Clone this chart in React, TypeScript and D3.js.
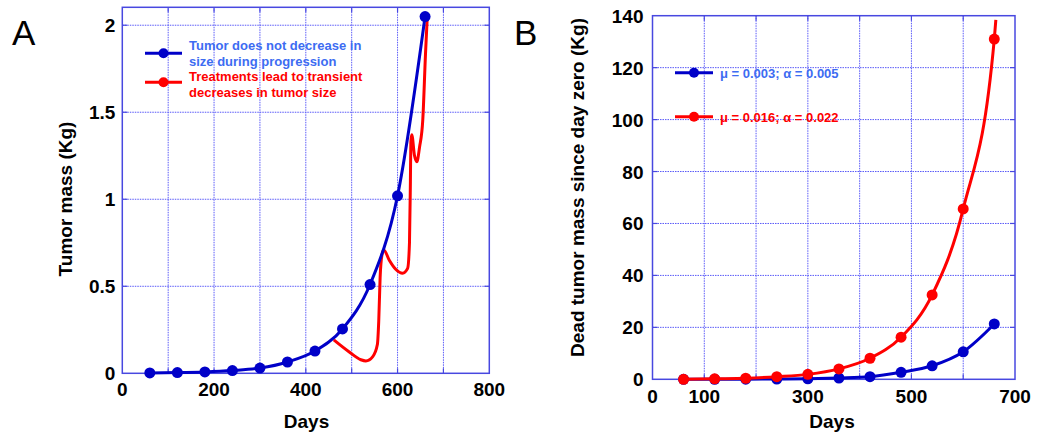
import React from 'react';
import * as d3 from 'd3';

// sampling days shared by the marker series
const days = [60, 120, 180, 240, 300, 360, 420, 480, 540, 600, 660];

// panel A: tumor mass (Kg)
const massNoDecrease = [0.002, 0.004, 0.008, 0.016, 0.03, 0.065, 0.128, 0.255, 0.51, 1.02, 2.05];
const treatDays = [461, 494, 520, 531, 546, 556, 559, 562, 566, 570, 582, 596, 611, 622, 626, 628, 629, 631, 637, 642, 648, 655, 661, 665];
const treatMass = [0.192, 0.124, 0.078, 0.071, 0.096, 0.165, 0.3, 0.55, 0.68, 0.709, 0.65, 0.598, 0.575, 0.603, 0.75, 1.1, 1.33, 1.37, 1.25, 1.216, 1.3, 1.456, 1.84, 2.06];

// panel B: dead tumor mass since day zero (Kg)
const deadLowRate = [0, 0.02, 0.05, 0.1, 0.2, 0.5, 1.0, 2.7, 5.2, 10.6, 21.3];
const deadHighRate = [0, 0.2, 0.4, 1.0, 1.9, 4.0, 8.1, 16.2, 32.5, 65.6, 131.0];
const deadHighTailDay = 663;
const deadHighTailMass = 138.4;

const xTicksA = [0, 200, 400, 600, 800];
const yTicksA = [0, 0.5, 1, 1.5, 2];
const gridXA = [100, 200, 300, 400, 500, 600, 700];
const gridYA = [0.5, 1, 1.5, 2];

const xTicksB = [0, 100, 300, 500, 700];
const yTicksB = [0, 20, 40, 60, 80, 100, 120, 140];
const gridXB = [100, 200, 300, 400, 500, 600];
const gridYB = [20, 40, 60, 80, 100, 120];

const legendA = [
  ['Tumor does not decrease in', 'size during progression'],
  ['Treatments lead to transient', 'decreases in tumor size'],
];
const legendB = ['\u03bc = 0.003; \u03b1 = 0.005', '\u03bc = 0.016; \u03b1 = 0.022'];

const FONT = '"Liberation Sans", Arial, Helvetica, sans-serif';
const BLUE = '#0000c8';
const RED = '#ff0000';
const LEG_BLUE = '#3d6cf2';
const GRID = '#5a5af8';
const FRAME = '#4848e0';

type Scale = d3.ScaleLinear<number, number>;

function Frame({ x, y, gridX, gridY, xTicks, yTicks, xLabOff, yLabOff }: {
  x: Scale; y: Scale; gridX: number[]; gridY: number[]; xTicks: number[]; yTicks: number[]; xLabOff: number; yLabOff: number;
}) {
  const [x0, x1] = x.range();
  const [y0, y1] = y.range();
  return (
    <g>
      {gridX.map(d => (
        <line key={'gx' + d} x1={x(d)} x2={x(d)} y1={y0} y2={y1} stroke={GRID} strokeWidth={1} strokeDasharray="1.5,1" />
      ))}
      {gridY.map(d => (
        <line key={'gy' + d} x1={x0} x2={x1} y1={y(d)} y2={y(d)} stroke={GRID} strokeWidth={1} strokeDasharray="1.5,1" />
      ))}
      {gridX.map(d => (
        <g key={'tx' + d}>
          <line x1={x(d)} x2={x(d)} y1={y0} y2={y0 - 5} stroke={FRAME} strokeWidth={1.2} />
          <line x1={x(d)} x2={x(d)} y1={y1} y2={y1 + 5} stroke={FRAME} strokeWidth={1.2} />
        </g>
      ))}
      {gridY.map(d => (
        <g key={'ty' + d}>
          <line x1={x0} x2={x0 + 5} y1={y(d)} y2={y(d)} stroke={FRAME} strokeWidth={1.2} />
          <line x1={x1} x2={x1 - 5} y1={y(d)} y2={y(d)} stroke={FRAME} strokeWidth={1.2} />
        </g>
      ))}
      <rect x={x0} y={y1} width={x1 - x0} height={y0 - y1} fill="none" stroke={FRAME} strokeWidth={1.5} />
      {xTicks.map(d => (
        <text key={'lx' + d} x={x(d)} y={y0 + xLabOff} textAnchor="middle" fontSize={19} fontWeight="bold" fontFamily={FONT}>{d}</text>
      ))}
      {yTicks.map(d => (
        <text key={'ly' + d} x={x0 - yLabOff} y={y(d) + 7} textAnchor="end" fontSize={19} fontWeight="bold" fontFamily={FONT}>{d}</text>
      ))}
    </g>
  );
}

function Series({ x, y, xs, ys, color, markers, tail }: {
  x: Scale; y: Scale; xs: number[]; ys: number[]; color: string; markers: boolean; tail?: [number, number];
}) {
  const pts: [number, number][] = xs.map((d, i) => [d, ys[i]]);
  if (tail) pts.push(tail);
  const line = d3.line<[number, number]>().x(d => x(d[0])).y(d => y(d[1])).curve(d3.curveMonotoneX);
  return (
    <g>
      <path d={line(pts) || ''} fill="none" stroke={color} strokeWidth={3} strokeLinejoin="round" />
      {markers && xs.map((d, i) => (
        <circle key={i} cx={x(d)} cy={y(ys[i])} r={5.5} fill={color} />
      ))}
    </g>
  );
}

function LegendMark({ x1, x2, y, color }: { x1: number; x2: number; y: number; color: string }) {
  return (
    <g>
      <line x1={x1} x2={x2} y1={y} y2={y} stroke={color} strokeWidth={3} />
      <circle cx={(x1 + x2) / 2} cy={y} r={5} fill={color} />
    </g>
  );
}

export default function App() {
  const xA = d3.scaleLinear().domain([0, 800]).range([122.3, 489.3]);
  const yA = d3.scaleLinear().domain([0, 2.103]).range([373.3, 7.3]);
  const xB = d3.scaleLinear().domain([0, 700]).range([652.5, 1015]);
  const yB = d3.scaleLinear().domain([0, 140]).range([379.3, 15.7]);

  return (
    <svg width={1047} height={434} style={{ position: 'absolute', left: 0, top: 0, background: '#fff' }}>
      {/* panel A */}
      <text x={12} y={45} fontSize={35} fontFamily={FONT}>A</text>
      <Frame x={xA} y={yA} gridX={gridXA} gridY={gridYA} xTicks={xTicksA} yTicks={yTicksA} xLabOff={23} yLabOff={7} />
      <Series x={xA} y={yA} xs={treatDays} ys={treatMass} color={RED} markers={false} />
      <Series x={xA} y={yA} xs={days} ys={massNoDecrease} color={BLUE} markers={true} />
      <text transform="translate(72,199) rotate(-90)" textAnchor="middle" fontSize={19} fontWeight="bold" fontFamily={FONT}>Tumor mass (Kg)</text>
      <text x={306.5} y={428} textAnchor="middle" fontSize={19} fontWeight="bold" fontFamily={FONT}>Days</text>
      <LegendMark x1={145} x2={182} y={53.3} color={BLUE} />
      <LegendMark x1={145} x2={182} y={82.3} color={RED} />
      {legendA.map((lines, i) => lines.map((t, j) => (
        <text key={i + '-' + j} x={189} y={50 + i * 31 + j * 15.5} fontSize={13} fontWeight="bold" fontFamily={FONT} fill={i === 0 ? LEG_BLUE : RED}>{t}</text>
      )))}

      {/* panel B */}
      <text x={514} y={45} fontSize={35} fontFamily={FONT}>B</text>
      <Frame x={xB} y={yB} gridX={gridXB} gridY={gridYB} xTicks={xTicksB} yTicks={yTicksB} xLabOff={24} yLabOff={9} />
      <Series x={xB} y={yB} xs={days} ys={deadLowRate} color={BLUE} markers={true} />
      <Series x={xB} y={yB} xs={days} ys={deadHighRate} color={RED} markers={true} tail={[deadHighTailDay, deadHighTailMass]} />
      <text transform="translate(584,187.5) rotate(-90)" textAnchor="middle" fontSize={19} fontWeight="bold" fontFamily={FONT}>Dead tumor mass since day zero (Kg)</text>
      <text x={832} y={428} textAnchor="middle" fontSize={19} fontWeight="bold" fontFamily={FONT}>Days</text>
      <LegendMark x1={675} x2={713} y={72.7} color={BLUE} />
      <LegendMark x1={675} x2={713} y={116.7} color={RED} />
      {legendB.map((t, i) => (
        <text key={i} x={720} y={77.5 + i * 44} fontSize={13} fontWeight="bold" fontFamily={FONT} fill={i === 0 ? LEG_BLUE : RED}>{t}</text>
      ))}
    </svg>
  );
}
